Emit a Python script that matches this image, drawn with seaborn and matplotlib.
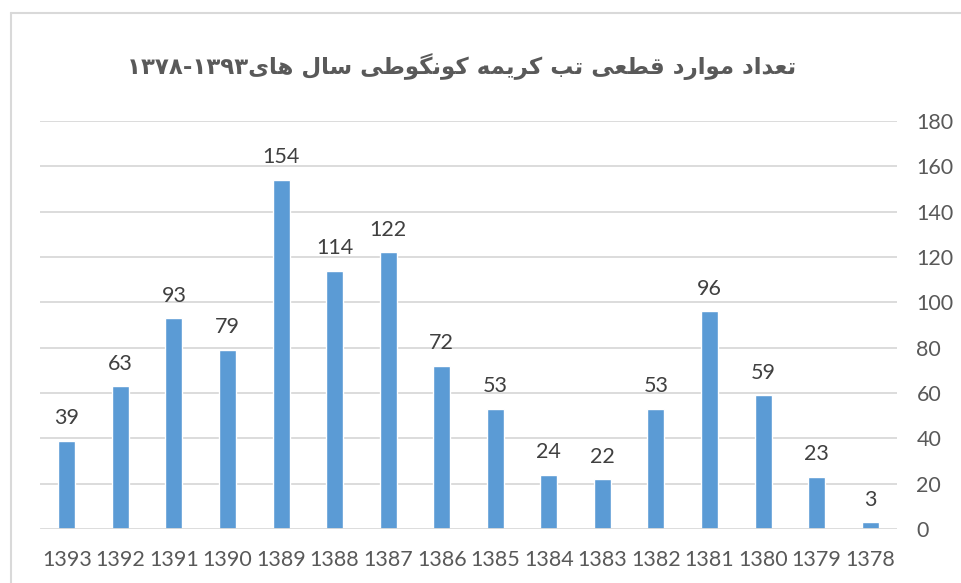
import matplotlib
matplotlib.use("Agg")
import matplotlib.pyplot as plt
import seaborn as sns
import pandas as pd
from matplotlib.lines import Line2D

# ---- data ----
years = ["1393", "1392", "1391", "1390", "1389", "1388", "1387", "1386",
         "1385", "1384", "1383", "1382", "1381", "1380", "1379", "1378"]
cases = [39, 63, 93, 79, 154, 114, 122, 72, 53, 24, 22, 53, 96, 59, 23, 3]
y_ticks = [0, 20, 40, 60, 80, 100, 120, 140, 160, 180]
title_text = "تعداد موارد قطعی تب کریمه کونگوطی سال های۱۳۹۳-۱۳۷۸"

# ---- minimal Persian shaping (presentation forms) + visual ordering ----
FORMS = {  # isolated, final, initial, medial
    "ا": ("\uFE8D", "\uFE8E", None, None),
    "ب": ("\uFE8F", "\uFE90", "\uFE91", "\uFE92"),
    "ت": ("\uFE95", "\uFE96", "\uFE97", "\uFE98"),
    "د": ("\uFEA9", "\uFEAA", None, None),
    "ر": ("\uFEAD", "\uFEAE", None, None),
    "س": ("\uFEB1", "\uFEB2", "\uFEB3", "\uFEB4"),
    "ط": ("\uFEC1", "\uFEC2", "\uFEC3", "\uFEC4"),
    "ع": ("\uFEC9", "\uFECA", "\uFECB", "\uFECC"),
    "ق": ("\uFED5", "\uFED6", "\uFED7", "\uFED8"),
    "ل": ("\uFEDD", "\uFEDE", "\uFEDF", "\uFEE0"),
    "م": ("\uFEE1", "\uFEE2", "\uFEE3", "\uFEE4"),
    "ن": ("\uFEE5", "\uFEE6", "\uFEE7", "\uFEE8"),
    "ه": ("\uFEE9", "\uFEEA", "\uFEEB", "\uFEEC"),
    "و": ("\uFEED", "\uFEEE", None, None),
    "ی": ("\uFBFC", "\uFBFD", "\uFBFE", "\uFBFF"),
    "ک": ("\uFB8E", "\uFB8F", "\uFB90", "\uFB91"),
    "گ": ("\uFB92", "\uFB93", "\uFB94", "\uFB95"),
}


def dual(c):
    return c in FORMS and FORMS[c][2] is not None


def shape(s):
    out = []
    for i, c in enumerate(s):
        if c not in FORMS:
            out.append(c)
            continue
        prev = s[i - 1] if i > 0 else ""
        nxt = s[i + 1] if i + 1 < len(s) else ""
        jp = dual(prev)
        jn = dual(c) and nxt in FORMS
        f = FORMS[c]
        if jp and jn:
            out.append(f[3])
        elif jp:
            out.append(f[1])
        elif jn:
            out.append(f[2])
        else:
            out.append(f[0])
    return "".join(out)


def visual(s):
    shaped = shape(s)
    tokens, buf = [], ""
    for c in shaped:
        if "\u06F0" <= c <= "\u06F9" or c.isdigit():
            buf += c
        else:
            if buf:
                tokens.append(buf)
                buf = ""
            tokens.append(c)
    if buf:
        tokens.append(buf)
    return "".join(reversed(tokens))


# ---- plot ----
sns.set_theme(style="white")
plt.rcParams["font.family"] = ["Lato", "DejaVu Sans"]

TXT = "#595959"
GRID = "#D9D9D9"
BLUE = "#5B9BD5"

fig = plt.figure(figsize=(9.61, 5.83), dpi=100)
ax = fig.add_axes([40 / 961, 54 / 583, 857 / 961, 408 / 583])

df = pd.DataFrame({"year": years, "cases": cases})
sns.barplot(data=df, x="year", y="cases", order=years, color=BLUE,
            saturation=1, width=0.317, ax=ax, zorder=3)

ax.set_ylim(0, 180)
ax.set_xlim(-0.5, len(years) - 0.5)
ax.set_yticks(y_ticks)
ax.yaxis.tick_right()
ax.yaxis.set_label_position("right")
for t in y_ticks[1:]:
    ax.axhline(t, color=GRID, lw=1.3, zorder=1)
ax.axhline(0, color=GRID, lw=2.0, zorder=4)

for s in ax.spines.values():
    s.set_visible(False)
ax.tick_params(axis="both", length=0, labelsize=15.5, labelcolor=TXT)
ax.tick_params(axis="y", pad=14)
ax.tick_params(axis="x", pad=15)
for lab in ax.get_yticklabels():
    lab.set_horizontalalignment("left")
ax.set_xlabel("")
ax.set_ylabel("")

for i, v in enumerate(cases):
    ax.annotate(str(v), (i, v), xytext=(0, 9), textcoords="offset points",
                ha="center", va="bottom", fontsize=15.5, color="#404040")

fig.text(462 / 961, 1 - 67 / 583, visual(title_text), ha="center", va="center",
         fontsize=16.5, fontweight="bold", color=TXT,
         family=["DejaVu Sans"])

# chart frame (left and top edges visible)
fig.add_artist(Line2D([10.5 / 961, 10.5 / 961], [0, 1 - 12.5 / 583],
                      transform=fig.transFigure, color=GRID, lw=1.5))
fig.add_artist(Line2D([10.5 / 961, 1], [1 - 12.5 / 583, 1 - 12.5 / 583],
                      transform=fig.transFigure, color=GRID, lw=1.5))

fig.savefig("out.png", dpi=100, facecolor="white")
